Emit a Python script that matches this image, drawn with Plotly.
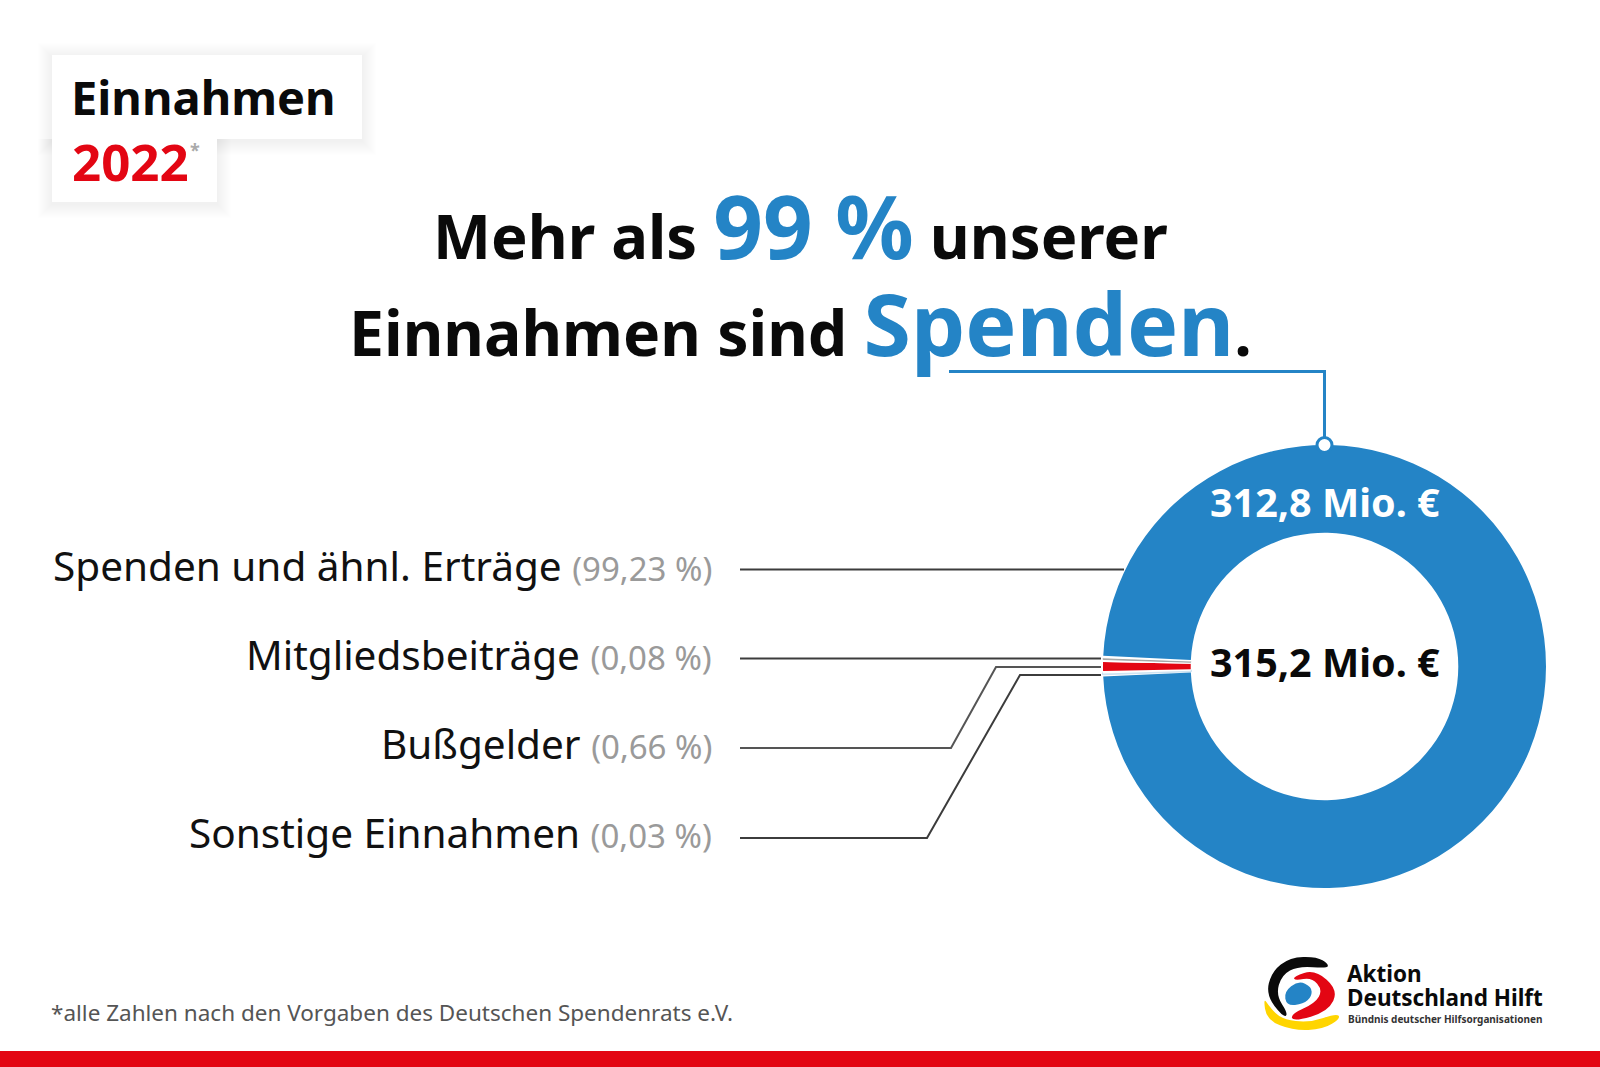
import plotly.graph_objects as go

W, H = 1600, 1067

BLUE = "#2484c6"
RED = "#e30613"
LINE = "#3c3c3c"
FONT = "Noto Sans"

# Anteile in Prozent
labels = ["Spenden und ähnl. Erträge", "Mitgliedsbeiträge", "Bußgelder", "Sonstige Einnahmen"]
shares = [99.23, 0.08, 0.66, 0.03]
share_text = ["99,23 %", "0,08 %", "0,66 %", "0,03 %"]
slice_colors = [BLUE, "#a6a6a6", RED, "#cfe3f2"]
donations_text = "312,8 Mio. €"
total_text = "315,2 Mio. €"

GAP = 0.18  # white spacer between the thin slices


def px(x):
    return x / W


def py(y):
    return 1 - y / H


def line(points, color=LINE, width=2):
    d = "M " + " L ".join(f"{px(x):.5f},{py(y):.5f}" for x, y in points)
    return dict(type="path", xref="paper", yref="paper", path=d,
                line=dict(color=color, width=width), layer="above")


def rect(x0, y0, x1, y1, color, opacity=1.0, layer="above"):
    return dict(type="rect", xref="paper", yref="paper", x0=px(x0), x1=px(x1), y0=py(y0), y1=py(y1),
                fillcolor=color, opacity=opacity, line_width=0, layer=layer)


def blob(points, color):
    # closed smooth outline through the midpoints, points are in logo crop coords
    pts = [(1240 + x / 3, 940 + y / 3) for x, y in points]
    mids = [((pts[i][0] + pts[(i + 1) % len(pts)][0]) / 2, (pts[i][1] + pts[(i + 1) % len(pts)][1]) / 2)
            for i in range(len(pts))]
    d = f"M {px(mids[-1][0]):.5f},{py(mids[-1][1]):.5f}"
    for p, m in zip(pts, mids):
        d += f" Q {px(p[0]):.5f},{py(p[1]):.5f} {px(m[0]):.5f},{py(m[1]):.5f}"
    return dict(type="path", xref="paper", yref="paper", path=d + " Z", fillcolor=color, line_width=0, layer="above")


def text(x, y, s, size, color="#111111", anchor="left", bold=False, valign="middle"):
    if bold:
        s = f"<b>{s}</b>"
    return dict(x=px(x), y=py(y), xref="paper", yref="paper", text=s, showarrow=False, xanchor=anchor,
                yanchor=valign, font=dict(family=FONT, size=size, color=color), align=anchor)


# ── Ring ──────────────────────────────────────────────────────────────────────
# clockwise from the thin slices: Sonstige, Bußgelder, Mitglieder, then Spenden
pie_values = [GAP, shares[3], GAP, shares[2], GAP, shares[1], GAP, shares[0]]
pie_colors = ["white", slice_colors[3], "white", slice_colors[2], "white", slice_colors[1], "white", slice_colors[0]]
line_widths = [0, 2.5, 0, 0, 0, 1, 0, 0]
line_colors = ["white", slice_colors[3], "white", slice_colors[2], "white", slice_colors[1], "white", slice_colors[0]]

before_red = GAP + shares[3] + GAP + shares[2] / 2
rotation = 270 - before_red / sum(pie_values) * 360

CX, CY, R = 1324.5, 666.5, 221.5

fig = go.Figure(go.Pie(
    values=pie_values,
    sort=False,
    direction="clockwise",
    rotation=rotation,
    hole=0.604,
    textinfo="none",
    hoverinfo="skip",
    marker=dict(colors=pie_colors, line=dict(color=line_colors, width=line_widths)),
    domain=dict(x=[px(CX - R), px(CX + R)], y=[py(CY + R), py(CY - R)]),
))

# ── Shapes ────────────────────────────────────────────────────────────────────
shapes = []

# soft shadow behind the title boxes
for grow in range(14, 0, -1):
    shapes.append(rect(52 - grow, 55 - grow + 2, 362 + grow, 139 + grow + 2, "#000000", 0.0035))
    shapes.append(rect(52 - grow, 139, 217 + grow, 202 + grow + 2, "#000000", 0.0035))
shapes.append(rect(52, 55, 362, 139, "white"))
shapes.append(rect(52, 130, 217, 202, "white"))

# leader lines
shapes.append(line([(740, 569.5), (1124, 569.5)]))
shapes.append(line([(740, 658.5), (1101, 658.5)]))
shapes.append(line([(740, 748), (951, 748), (996, 667), (1101, 667)], color="#555555"))
shapes.append(line([(740, 838), (927, 838), (1020, 675), (1101, 675)]))

# connector from the headline to the ring
shapes.append(line([(949, 371.5), (1324.5, 371.5), (1324.5, 445)], color=BLUE, width=3))
shapes.append(dict(type="circle", xref="paper", yref="paper", x0=px(1317), x1=px(1332), y0=py(437.5), y1=py(452.5),
                   fillcolor="white", line=dict(color=BLUE, width=3), layer="above"))

# red bar at the bottom
shapes.append(rect(0, 1051, W, H, RED))

# logo
shapes.append(blob([(265, 72), (230, 50), (150, 52), (95, 95), (78, 165), (130, 232), (145, 222), (108, 165),
                    (125, 105), (175, 78), (262, 85)], "#0a0a0a"))
shapes.append(blob([(160, 110), (225, 88), (295, 150), (265, 215), (160, 245), (152, 222), (225, 190), (248, 150),
                    (215, 112), (165, 122)], RED))
shapes.append(blob([(70, 172), (80, 240), (160, 272), (250, 268), (302, 235), (290, 220), (210, 248), (125, 238),
                    (88, 200)], "#ffd500"))
shapes.append(blob([(132, 155), (175, 122), (215, 140), (215, 170), (190, 192), (140, 198)], BLUE))

# ── Text ──────────────────────────────────────────────────────────────────────
annotations = [
    text(69, 97, "Einnahmen", 47, color="#0a0a0a", bold=True),
    text(70, 161, "2022", 51, color=RED, bold=True),
    text(188, 150, "*", 18, color="#aaaaaa", bold=True),
    text(800, 225, f'<b>Mehr als <span style="color:{BLUE};font-size:87px">99 %</span> unserer</b>', 61.5, color="#0a0a0a", anchor="center"),
    text(800, 322, f'<b>Einnahmen sind <span style="color:{BLUE};font-size:86px">Spenden</span>.</b>', 62.5, color="#0a0a0a", anchor="center"),
    text(1325, 502, donations_text, 39.5, color="white", anchor="center", bold=True),
    text(1325, 662, total_text, 39.5, color="#0a0a0a", anchor="center", bold=True),
    text(49, 1012, "*alle Zahlen nach den Vorgaben des Deutschen Spendenrats e.V.", 22.5, color="#555555"),
    text(1345, 973, "Aktion", 22.5, color="#0a0a0a", bold=True),
    text(1345, 997, "Deutschland Hilft", 22.5, color="#0a0a0a", bold=True),
    text(1346, 1019, "Bündnis deutscher Hilfsorganisationen", 10, color="#333333", bold=True),
]

label_y = [565, 654, 743, 832]
for name, pct, y in zip(labels, share_text, label_y):
    annotations.append(text(714, y, f'{name} <span style="color:#9a9a9a;font-size:33px">({pct})</span>', 40.5, anchor="right"))

fig.update_layout(
    width=W,
    height=H,
    margin=dict(l=0, r=0, t=0, b=0),
    paper_bgcolor="white",
    showlegend=False,
    shapes=shapes,
    annotations=annotations,
)

fig.write_html("out.html", config=dict(displayModeBar=False), post_script="document.body.style.margin='0';")
